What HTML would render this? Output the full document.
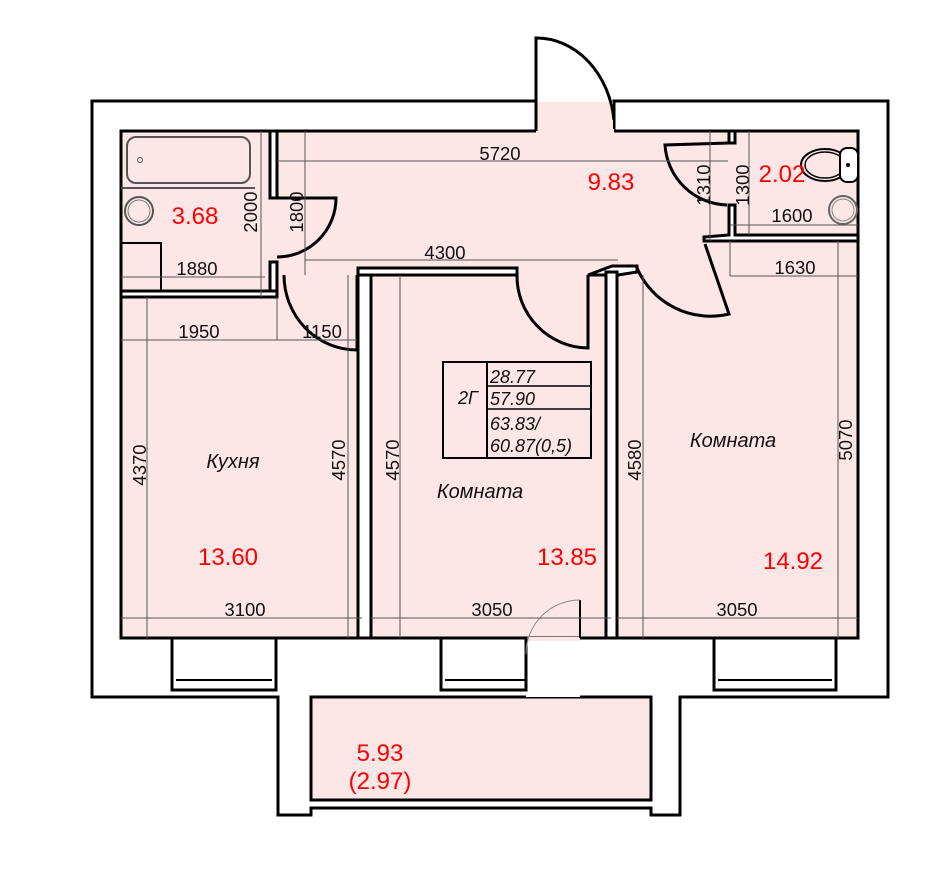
<!DOCTYPE html>
<html><head><meta charset="utf-8"><style>
html,body{margin:0;padding:0;background:#fff}
svg{display:block}
text{font-family:"Liberation Sans",sans-serif}
.d{font-size:18.5px;fill:#111;text-anchor:middle}
.r{font-size:24px;fill:#f00;text-anchor:middle}
.i{font-size:20px;font-style:italic;fill:#111;text-anchor:middle}
.dl{stroke:#555;stroke-width:1;fill:none}
.w{fill:#fff;stroke:#000;stroke-width:3}
.k{fill:none;stroke:#000;stroke-width:3}
</style></head><body>
<svg width="948" height="874" viewBox="0 0 948 874" xmlns="http://www.w3.org/2000/svg">
<path d="M536,131 L536,101 L92,101 L92,697 L278,697 L278,815 L311,815 L311,808 L651,808 L651,815 L680,815 L680,697 L888,697 L888,101 L614,101 L614,131" class="k"/>
<rect x="121" y="131" width="737" height="507" fill="#fde6e6" stroke="#000" stroke-width="3"/>
<rect x="537" y="102" width="76" height="30" fill="#fde6e6"/>
<line x1="536" y1="131" x2="614" y2="131" stroke="#fde6e6" stroke-width="4"/>
<rect x="311" y="697" width="340" height="103" fill="#fde6e6" stroke="#000" stroke-width="3"/>
<line x1="311" y1="808" x2="651" y2="808" stroke="#000" stroke-width="3"/>
<rect x="526" y="639" width="54" height="58" fill="#fff"/>
<line x1="526" y1="639" x2="580" y2="639" stroke="#fde6e6" stroke-width="4"/>
<rect x="172" y="638" width="104" height="52" class="w"/><line x1="176" y1="680" x2="272" y2="680" stroke="#000" stroke-width="2"/>
<rect x="441" y="638" width="85" height="52" class="w"/><line x1="445" y1="680" x2="526" y2="680" stroke="#000" stroke-width="2"/>
<rect x="714" y="638" width="122" height="52" class="w"/><line x1="718" y1="680" x2="832" y2="680" stroke="#000" stroke-width="2"/>
<line x1="580" y1="600" x2="580" y2="638" stroke="#000" stroke-width="2"/>
<path d="M580,600 A54,54 0 0 0 526,654" stroke="#888" fill="none" stroke-width="1"/>
<rect x="270" y="131" width="7" height="67" class="w"/>
<rect x="270" y="262" width="7" height="30" class="w"/>
<rect x="121" y="291" width="156" height="6" class="w"/>
<rect x="358" y="272" width="13" height="366" class="w"/>
<rect x="358" y="268" width="159" height="7" class="w"/>
<path d="M588,275 L612,266 L637,266 L637,272 L618,275 Z" class="w"/>
<rect x="606" y="272" width="11" height="366" class="w"/>
<rect x="729" y="131" width="6" height="12" class="w"/>
<path d="M729,205 L735,205 L735,235 L858,235 L858,241 L704,241 L704,237 L729,235 Z" class="w"/>
<path d="M536,131 L536,38 A78,93 0 0 1 614,120" class="k"/>
<path d="M277,198 L336,198 A59,59 0 0 1 277,257" class="k"/>
<path d="M357,275 L357,350 A73,75 0 0 1 284,275" class="k"/>
<path d="M517,275 A72,72 0 0 0 588,348 L588,275" class="k"/>
<path d="M729,143 L665,145 A64,64 0 0 0 727,205" class="k"/>
<path d="M705,244 L729,314 A80,80 0 0 1 637,268" class="k"/>
<rect x="127" y="137" width="123" height="46" rx="9" fill="none" stroke="#555" stroke-width="2"/>
<circle cx="140" cy="160" r="2.5" fill="none" stroke="#555"/>
<line x1="121" y1="188" x2="255" y2="188" stroke="#555" stroke-width="2"/>
<circle cx="139" cy="211" r="14" fill="none" stroke="#555" stroke-width="2"/>
<circle cx="139" cy="211" r="11" fill="none" stroke="#777" stroke-width="1"/>
<rect x="121" y="243" width="40" height="48" fill="none" stroke="#000" stroke-width="2"/>
<ellipse cx="825" cy="165" rx="24" ry="16" fill="none" stroke="#000" stroke-width="2"/>
<ellipse cx="825" cy="165" rx="20" ry="13" fill="none" stroke="#000" stroke-width="1.5"/>
<rect x="840" y="148" width="18" height="34" rx="7" fill="#fff" stroke="#000" stroke-width="2"/>
<circle cx="848" cy="165" r="2" fill="#000"/>
<circle cx="843" cy="210" r="14" fill="none" stroke="#666" stroke-width="2"/>
<circle cx="843" cy="210" r="11" fill="none" stroke="#888" stroke-width="1"/>
<g class="dl">
<line x1="277" y1="161" x2="728" y2="161"/>
<line x1="261" y1="131" x2="261" y2="297"/>
<line x1="305" y1="131" x2="305" y2="275"/>
<line x1="121" y1="277" x2="265" y2="277"/>
<line x1="305" y1="260" x2="618" y2="260"/>
<line x1="710" y1="131" x2="710" y2="241"/>
<line x1="749" y1="131" x2="749" y2="235"/>
<line x1="730" y1="225" x2="858" y2="225"/>
<line x1="730" y1="276" x2="858" y2="276"/>
<line x1="730" y1="241" x2="730" y2="276"/>
<line x1="121" y1="340" x2="357" y2="340"/>
<line x1="147" y1="297" x2="147" y2="638"/>
<line x1="277" y1="297" x2="277" y2="340"/>
<line x1="348" y1="275" x2="348" y2="638"/>
<line x1="400" y1="275" x2="400" y2="638"/>
<line x1="643" y1="275" x2="643" y2="638"/>
<line x1="838" y1="241" x2="838" y2="638"/>
<line x1="121" y1="618" x2="362" y2="618"/>
<line x1="371" y1="618" x2="611" y2="618"/>
<line x1="617" y1="618" x2="858" y2="618"/>
</g>
<rect x="443" y="362" width="148" height="96" fill="none" stroke="#000" stroke-width="2"/>
<line x1="487" y1="362" x2="487" y2="458" stroke="#000" stroke-width="2"/>
<line x1="487" y1="386" x2="591" y2="386" stroke="#000" stroke-width="1.5"/>
<line x1="487" y1="409" x2="591" y2="409" stroke="#000" stroke-width="1.5"/>
<g style="font-family:'Liberation Sans',sans-serif;font-style:italic;font-size:18px" fill="#111">
<text x="458" y="404">2Г</text>
<text x="490" y="383">28.77</text>
<text x="490" y="405">57.90</text>
<text x="490" y="430">63.83/</text>
<text x="490" y="452">60.87(0,5)</text>
</g>
<text class="d" x="500" y="160">5720</text>
<text class="d" x="445" y="259">4300</text>
<text class="d" x="197" y="275">1880</text>
<text class="d" x="792" y="222">1600</text>
<text class="d" x="795" y="274">1630</text>
<text class="d" x="199" y="338">1950</text>
<text class="d" x="322" y="338">1150</text>
<text class="d" x="245" y="616">3100</text>
<text class="d" x="492" y="616">3050</text>
<text class="d" x="737" y="616">3050</text>
<text class="d" transform="translate(257,212) rotate(-90)">2000</text>
<text class="d" transform="translate(303,212) rotate(-90)">1800</text>
<text class="d" transform="translate(710,185) rotate(-90)">1310</text>
<text class="d" transform="translate(749,185) rotate(-90)">1300</text>
<text class="d" transform="translate(146,465) rotate(-90)">4370</text>
<text class="d" transform="translate(345,460) rotate(-90)">4570</text>
<text class="d" transform="translate(399,460) rotate(-90)">4570</text>
<text class="d" transform="translate(641,460) rotate(-90)">4580</text>
<text class="d" transform="translate(852,440) rotate(-90)">5070</text>
<text class="r" x="611" y="190">9.83</text>
<text class="r" x="195" y="224">3.68</text>
<text class="r" x="782" y="182">2.02</text>
<text class="r" x="228" y="565">13.60</text>
<text class="r" x="567" y="565">13.85</text>
<text class="r" x="793" y="569">14.92</text>
<text class="r" x="380" y="761">5.93</text>
<text class="r" x="380" y="789">(2.97)</text>
<text class="i" x="233" y="468">Кухня</text>
<text class="i" x="480" y="498">Комната</text>
<text class="i" x="733" y="447">Комната</text>
</svg>
</body></html>
